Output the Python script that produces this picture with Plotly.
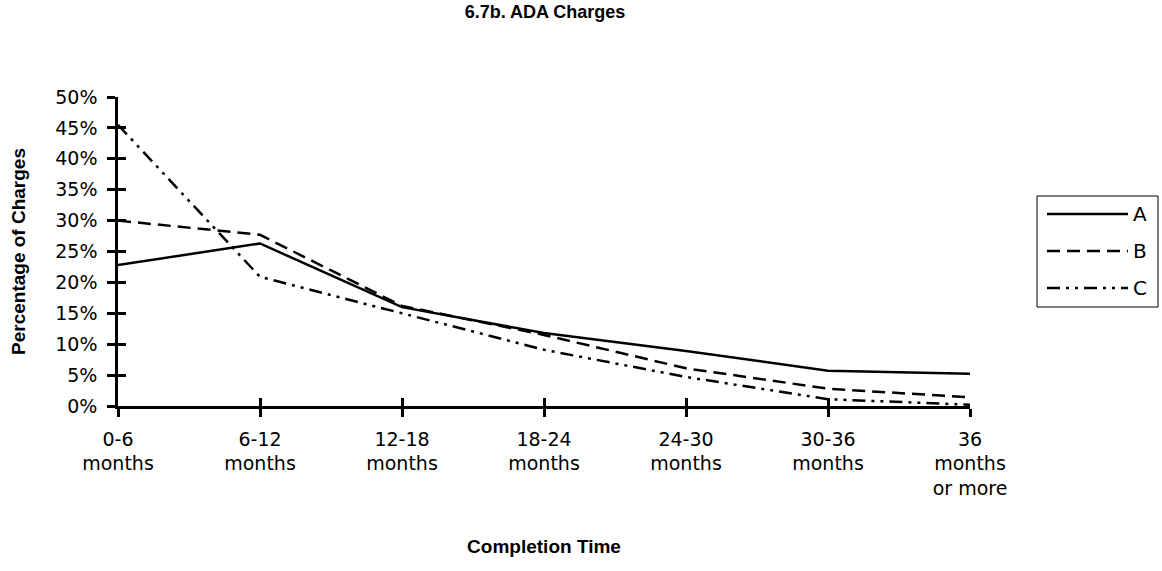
import plotly.graph_objects as go

categories = ["0-6<br>months", "6-12<br>months", "12-18<br>months", "18-24<br>months",
              "24-30<br>months", "30-36<br>months", "36<br>months<br>or more"]
series_names = ["A", "B", "C"]
series_A = [22.8, 26.3, 16.0, 11.8, 8.9, 5.7, 5.2]
series_B = [30.0, 27.7, 16.2, 11.5, 6.1, 2.8, 1.4]
series_C = [45.5, 20.9, 15.0, 9.1, 4.7, 1.1, 0.2]
y_ticks = [0, 5, 10, 15, 20, 25, 30, 35, 40, 45, 50]
y_tick_labels = [f"{v}%" for v in y_ticks]

FONT = "Liberation Sans, Arial, sans-serif"
TICK_FONT = "DejaVu Sans, Liberation Sans, sans-serif"
W, H = 1162, 571
L, R, T, B = 118, 192, 97, 165
PW, PH = W - L - R, H - T - B
dashes = ["solid", "13px,7px", "13px,6px,3px,6px,3px,6px"]


def px_x(p):
    return (p - L) / PW


def px_y(p):
    return (H - B - p) / PH


fig = go.Figure()
for name, vals, dash in zip(series_names, [series_A, series_B, series_C], dashes):
    fig.add_trace(go.Scatter(x=categories, y=vals, name=name, mode="lines",
                             line=dict(color="black", width=2.5, dash=dash),
                             showlegend=False))
# invisible trace to host overlay axes (tick marks crossing the axis lines)
fig.add_trace(go.Scatter(x=categories, y=series_A, xaxis="x2", yaxis="y2", mode="lines",
                         line=dict(width=0), opacity=0, showlegend=False, hoverinfo="skip"))

# legend box (drawn by hand to match the long sample lines of the original)
shapes = [dict(type="rect", xref="paper", yref="paper",
               x0=px_x(1037), x1=px_x(1158), y0=px_y(307), y1=px_y(196),
               line=dict(color="black", width=1), fillcolor="white", layer="above")]
annotations = []
for i, (name, dash) in enumerate(zip(series_names, dashes)):
    yy = px_y(214 + 37 * i)
    shapes.append(dict(type="line", xref="paper", yref="paper",
                       x0=px_x(1047), x1=px_x(1128), y0=yy, y1=yy,
                       line=dict(color="black", width=2.5, dash=dash), layer="above"))
    annotations.append(dict(text=name, xref="paper", yref="paper", x=px_x(1131), y=yy,
                            xanchor="left", yanchor="middle", showarrow=False,
                            font=dict(size=20, family=TICK_FONT, color="black")))

fig.update_layout(
    width=W, height=H,
    margin=dict(l=L, r=R, t=T, b=B, autoexpand=False),
    paper_bgcolor="white", plot_bgcolor="white",
    font=dict(family=FONT, size=19, color="black"),
    title=dict(text="<b>6.7b. ADA Charges</b>", x=545 / W, xanchor="center",
               y=1 - 12 / H, yanchor="middle", font=dict(size=18)),
    showlegend=False,
    shapes=shapes,
    annotations=annotations,
    xaxis=dict(type="category", categoryorder="array", categoryarray=categories,
               range=[0, 6], showline=True, linecolor="black", linewidth=2.5,
               ticks="outside", ticklen=8, tickwidth=2.5, tickcolor="black",
               showgrid=False, zeroline=False, tickangle=0, ticklabelstandoff=6,
               tickfont=dict(size=19, family=TICK_FONT),
               title=dict(text="<b>Completion Time</b>", standoff=42, font=dict(size=19))),
    yaxis=dict(range=[0, 50], tickvals=y_ticks, ticktext=y_tick_labels,
               showline=True, linecolor="black", linewidth=2.5,
               ticks="outside", ticklen=8, tickwidth=2.5, tickcolor="black",
               showgrid=False, zeroline=False, ticklabelstandoff=6,
               tickfont=dict(size=19, family=TICK_FONT),
               title=dict(text="<b>Percentage of Charges</b>", standoff=25, font=dict(size=19))),
    xaxis2=dict(type="category", categoryorder="array", categoryarray=categories,
                range=[0, 6], overlaying="x", anchor="y2", side="bottom",
                ticks="inside", ticklen=8, tickwidth=2.5, tickcolor="black",
                showticklabels=False, showgrid=False, zeroline=False, showline=False),
    yaxis2=dict(range=[0, 50], tickvals=y_ticks, overlaying="y", anchor="x2", side="left",
                ticks="inside", ticklen=8, tickwidth=2.5, tickcolor="black",
                showticklabels=False, showgrid=False, zeroline=False, showline=False),
)

fig.write_html("out.html")
